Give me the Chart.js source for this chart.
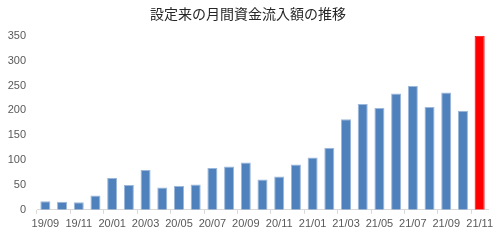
<!DOCTYPE html>
<html lang="ja">
<head>
<meta charset="UTF-8">
<title>設定来の月間資金流入額の推移</title>
<script src="https://cdn.jsdelivr.net/npm/chart.js@4/dist/chart.umd.min.js"></script>
<style>
    html, body { margin: 0; padding: 0; background: #fff; }
    #wrap { width: 500px; height: 245px; }
</style>
</head>
<body>
<div id="wrap"><canvas id="flowChart"></canvas></div>
<script>
    // months since launch
    const months = [
        '19/09', '19/10', '19/11', '19/12',
        '20/01', '20/02', '20/03', '20/04', '20/05', '20/06',
        '20/07', '20/08', '20/09', '20/10', '20/11', '20/12',
        '21/01', '21/02', '21/03', '21/04', '21/05', '21/06',
        '21/07', '21/08', '21/09', '21/10', '21/11'
    ];
    // monthly inflow
    const inflow = [
        17, 16, 15, 29,
        64, 50, 80, 45, 48, 51,
        84, 87, 95, 61, 67, 91,
        105, 125, 182, 213, 205, 234,
        249, 207, 236, 199, 350
    ];
    const yTicks = [0, 50, 100, 150, 200, 250, 300, 350];

    const blue = '#4f81bd';
    const red = '#ff0000';
    const barColors = inflow.map((v, i) => i === inflow.length - 1 ? red : blue);
    const edgeColors = inflow.map((v, i) => i === inflow.length - 1 ? red : '#9bb7d9');

    new Chart(document.getElementById('flowChart'), {
        type: 'bar',
        data: {
            labels: months,
            datasets: [{
                data: inflow,
                backgroundColor: barColors,
                borderColor: edgeColors,
                borderWidth: 1,
                categoryPercentage: 1,
                barPercentage: 0.6
            }]
        },
        options: {
            responsive: true,
            maintainAspectRatio: false,
            animation: false,
            layout: { padding: { left: 8, right: 12, top: 0, bottom: 10 } },
            plugins: {
                legend: { display: false },
                tooltip: { enabled: false },
                title: {
                    display: true,
                    text: '設定来の月間資金流入額の推移',
                    color: '#262626',
                    font: { family: '"Noto Sans CJK JP", sans-serif', size: 14, weight: 'normal' },
                    padding: { top: 5, bottom: 14 }
                }
            },
            scales: {
                x: {
                    border: { display: true, color: '#d9d9d9' },
                    grid: {
                        offset: true,
                        drawOnChartArea: false,
                        tickLength: 4,
                        tickColor: ctx => ctx.index % 2 === 0 ? '#d9d9d9' : 'rgba(0,0,0,0)'
                    },
                    ticks: {
                        autoSkip: false,
                        maxRotation: 0,
                        padding: 4,
                        color: '#595959',
                        font: { family: '"Liberation Sans", Arial, sans-serif', size: 11 },
                        callback: (v, i) => i % 2 === 0 ? months[i] : ''
                    }
                },
                y: {
                    min: 0,
                    max: 350,
                    afterBuildTicks: axis => { axis.ticks = yTicks.map(v => ({ value: v })); },
                    afterFit: axis => { axis.width = 29; },
                    border: { display: false },
                    grid: { display: false, drawTicks: false },
                    ticks: {
                        padding: 11,
                        color: '#595959',
                        font: { family: '"Liberation Sans", Arial, sans-serif', size: 11 }
                    }
                }
            }
        }
    });
</script>
</body>
</html>
